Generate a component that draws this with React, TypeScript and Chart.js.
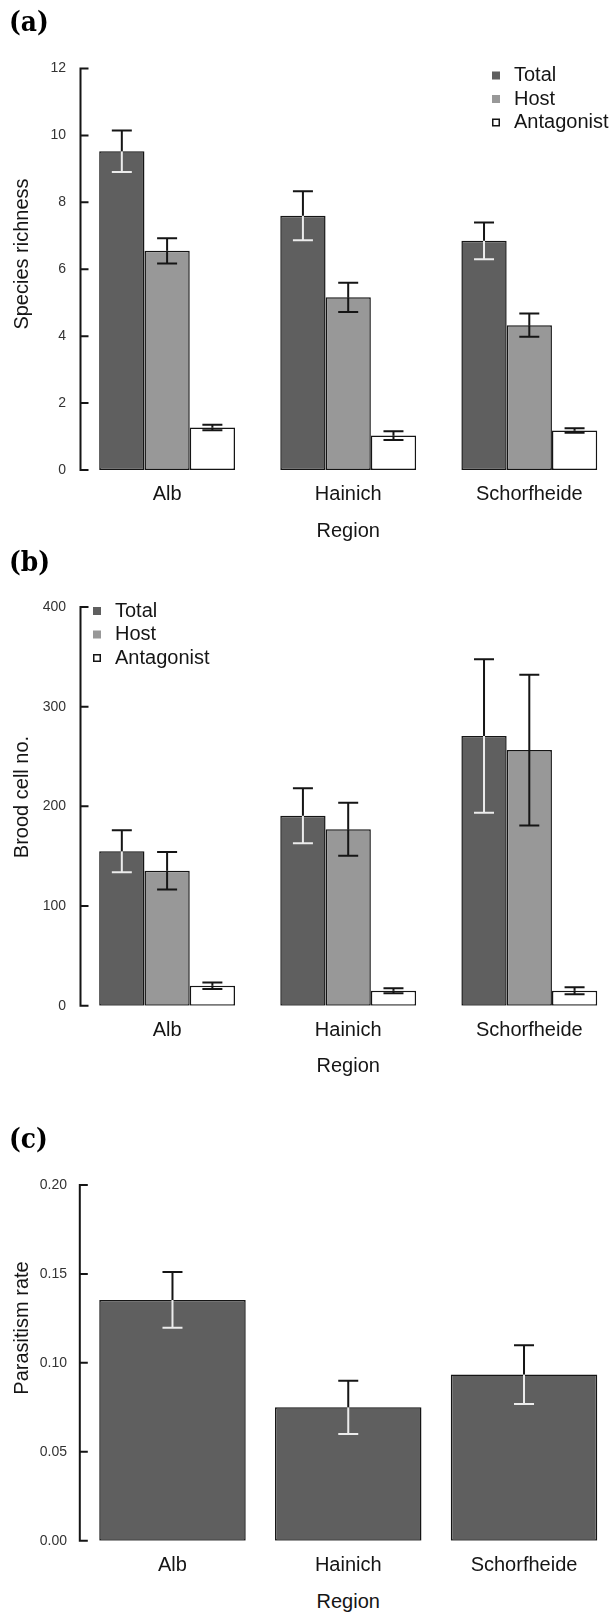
import React, { useEffect, useRef } from "react";
import { Chart, registerables } from "chart.js";

Chart.register(...registerables);

// ---- shared categories & series ----
const regions = ["Alb", "Hainich", "Schorfheide"];
const seriesNames = ["Total", "Host", "Antagonist"];
const seriesColors = ["#5f5f5f", "#989898", "#ffffff"];

// ---- (a) species richness: means and standard errors ----
const richnessTotal = [9.53, 7.6, 6.85];
const richnessTotalSE = [0.62, 0.73, 0.55];
const richnessHost = [6.55, 5.16, 4.33];
const richnessHostSE = [0.38, 0.44, 0.35];
const richnessAntagonist = [1.27, 1.03, 1.18];
const richnessAntagonistSE = [0.08, 0.13, 0.07];
const richnessTicks = [0, 2, 4, 6, 8, 10, 12];

// ---- (b) brood cell numbers ----
const broodTotal = [155, 190.6, 270.5];
const broodTotalSE = [21, 27.5, 77];
const broodHost = [135.4, 177, 256.5];
const broodHostSE = [18.7, 26.5, 75.6];
const broodAntagonist = [20, 15, 15];
const broodAntagonistSE = [3.2, 2.5, 3.6];
const broodTicks = [0, 100, 200, 300, 400];

// ---- (c) parasitism rate ----
const parasitismRate = [0.1354, 0.075, 0.0934];
const parasitismSE = [0.0157, 0.015, 0.0165];
const parasitismTicks = [0, 0.05, 0.1, 0.15, 0.2];

const SANS = '"Liberation Sans", Arial, Helvetica, sans-serif';
const INK = "#151515";

// Error bars: upper half in black, lower half in the dataset's own colour
// (light on dark bars so it stays visible).
const errorBarPlugin = {
  id: "seBars",
  afterDatasetsDraw(chart: any, _args: any, opts: any) {
    const ctx = chart.ctx;
    const ys = chart.scales.y;
    chart.data.datasets.forEach((ds: any, i: number) => {
      const se = ds.errorBars;
      if (!se) return;
      const meta = chart.getDatasetMeta(i);
      meta.data.forEach((bar: any, j: number) => {
        const v = ds.data[j];
        const e = se[j];
        const yMid = ys.getPixelForValue(v);
        const yHi = ys.getPixelForValue(v + e);
        const yLo = ys.getPixelForValue(v - e);
        const x = bar.x;
        const hw = opts.capHalf;
        ctx.save();
        ctx.lineWidth = opts.lineWidth;
        ctx.lineCap = "butt";
        ctx.strokeStyle = ds.errorLowColor || INK;
        ctx.beginPath();
        ctx.moveTo(x, yMid);
        ctx.lineTo(x, yLo);
        ctx.moveTo(x - hw, yLo);
        ctx.lineTo(x + hw, yLo);
        ctx.stroke();
        ctx.strokeStyle = INK;
        ctx.beginPath();
        ctx.moveTo(x, yMid);
        ctx.lineTo(x, yHi);
        ctx.moveTo(x - hw, yHi);
        ctx.lineTo(x + hw, yHi);
        ctx.stroke();
        ctx.restore();
      });
    });
  },
};

// Left axis drawn base-R style: a line spanning the tick range with short ticks.
const leftAxisPlugin = {
  id: "leftAxis",
  afterDraw(chart: any, _args: any, opts: any) {
    const ys = chart.scales.y;
    const ctx = chart.ctx;
    const vals = ys.ticks.map((t: any) => t.value);
    const top = ys.getPixelForValue(Math.max(...vals));
    const bot = ys.getPixelForValue(Math.min(...vals));
    const x0 = opts.x;
    ctx.save();
    ctx.strokeStyle = INK;
    ctx.lineWidth = 2;
    ctx.beginPath();
    ctx.moveTo(x0, top - 1);
    ctx.lineTo(x0, bot + 1);
    vals.forEach((v: number) => {
      const py = ys.getPixelForValue(v);
      ctx.moveTo(x0 - 1, py);
      ctx.lineTo(x0 + opts.tick, py);
    });
    ctx.stroke();
    ctx.restore();
  },
};

// Square-swatch legend placed inside the plot.
const swatchLegendPlugin = {
  id: "swatchLegend",
  afterDraw(chart: any, _args: any, opts: any) {
    if (!opts || !opts.show) return;
    const ctx = chart.ctx;
    const s = opts.box;
    ctx.save();
    chart.data.datasets.forEach((ds: any, i: number) => {
      const cy = opts.y + i * opts.rowGap;
      ctx.fillStyle = ds.backgroundColor;
      ctx.fillRect(opts.x, cy - s / 2, s, s);
      if (ds.backgroundColor === "#ffffff") {
        ctx.strokeStyle = INK;
        ctx.lineWidth = 1.5;
        ctx.strokeRect(opts.x + 0.75, cy - s / 2 + 0.75, s - 1.5, s - 1.5);
      }
      ctx.fillStyle = INK;
      ctx.font = `20px ${SANS}`;
      ctx.textBaseline = "middle";
      ctx.textAlign = "left";
      ctx.fillText(ds.label, opts.textX, cy);
    });
    ctx.restore();
  },
};

type PanelSpec = {
  top: number;
  height: number;
  datasets: any[];
  ticks: number[];
  decimals: number;
  plotLeft: number;
  plotRight: number;
  padTop: number;
  padBottom: number;
  labelPad: number;
  axisX: number;
  barPercentage: number;
  categoryPercentage: number;
  legend?: { x: number; y: number; textX: number };
};

const CANVAS_W = 640;

function makeConfig(p: PanelSpec): any {
  const maxTick = Math.max(...p.ticks);
  return {
    type: "bar",
    data: { labels: regions, datasets: p.datasets },
    plugins: [errorBarPlugin, leftAxisPlugin, swatchLegendPlugin],
    options: {
      responsive: false,
      animation: false,
      devicePixelRatio: 1,
      layout: {
        padding: { left: 0, right: CANVAS_W - p.plotRight, top: p.padTop, bottom: p.padBottom },
      },
      datasets: {
        bar: {
          barPercentage: p.barPercentage,
          categoryPercentage: p.categoryPercentage,
          borderColor: INK,
          borderWidth: 1.5,
          borderSkipped: false,
        },
      },
      scales: {
        x: {
          type: "category",
          offset: true,
          grid: { display: false, drawTicks: false },
          border: { display: false },
          ticks: { color: INK, font: { family: SANS, size: 20 }, padding: 12.5, maxRotation: 0 },
          afterFit: (s: any) => {
            s.height = 40;
          },
        },
        y: {
          min: 0,
          max: maxTick,
          grid: { display: false, drawTicks: false },
          border: { display: false },
          afterBuildTicks: (s: any) => {
            s.ticks = p.ticks.map((v) => ({ value: v }));
          },
          ticks: {
            color: "#333333",
            font: { family: SANS, size: 14 },
            padding: p.labelPad,
            callback: (v: any) => Number(v).toFixed(p.decimals),
          },
          afterFit: (s: any) => {
            s.width = p.plotLeft;
          },
        },
      },
      plugins: {
        legend: { display: false },
        tooltip: { enabled: false },
        seBars: { capHalf: 10, lineWidth: 2 },
        leftAxis: { x: p.axisX, tick: 8 },
        swatchLegend: p.legend
          ? { show: true, x: p.legend.x, y: p.legend.y, textX: p.legend.textX, rowGap: 23.5, box: 8 }
          : { show: false },
      },
    },
  };
}

function groupedSets(values: number[][], errors: number[][]) {
  return values.map((vals, i) => ({
    label: seriesNames[i],
    data: vals,
    backgroundColor: seriesColors[i],
    errorBars: errors[i],
    errorLowColor: i === 0 ? "#ececec" : INK,
  }));
}

const panels: PanelSpec[] = [
  {
    top: 0,
    height: 520,
    datasets: groupedSets(
      [richnessTotal, richnessHost, richnessAntagonist],
      [richnessTotalSE, richnessHostSE, richnessAntagonistSE]
    ),
    ticks: richnessTicks,
    decimals: 0,
    plotLeft: 76.55,
    plotRight: 619.85,
    padTop: 68.5,
    padBottom: 10,
    labelPad: 10.5,
    axisX: 80.5,
    barPercentage: 1,
    categoryPercentage: 0.75,
    legend: { x: 492, y: 75.5, textX: 514 },
  },
  {
    top: 540,
    height: 520,
    datasets: groupedSets(
      [broodTotal, broodHost, broodAntagonist],
      [broodTotalSE, broodHostSE, broodAntagonistSE]
    ),
    ticks: broodTicks,
    decimals: 0,
    plotLeft: 76.55,
    plotRight: 619.85,
    padTop: 67,
    padBottom: 14.3,
    labelPad: 10.5,
    axisX: 80.5,
    barPercentage: 1,
    categoryPercentage: 0.75,
    legend: { x: 93, y: 71, textX: 115 },
  },
  {
    top: 1100,
    height: 490,
    datasets: [
      {
        label: "Parasitism rate",
        data: parasitismRate,
        backgroundColor: seriesColors[0],
        errorBars: parasitismSE,
        errorLowColor: "#ececec",
      },
    ],
    ticks: parasitismTicks,
    decimals: 2,
    plotLeft: 84.6,
    plotRight: 611.9,
    padTop: 85,
    padBottom: 9.3,
    labelPad: 17.6,
    axisX: 79.8,
    barPercentage: 1 / 1.2,
    categoryPercentage: 1,
  },
];

function BarPanel({ spec }: { spec: PanelSpec }) {
  const ref = useRef<HTMLCanvasElement>(null);
  useEffect(() => {
    if (!ref.current) return;
    const chart = new Chart(ref.current, makeConfig(spec));
    return () => chart.destroy();
  }, [spec]);
  return (
    <canvas
      ref={ref}
      width={CANVAS_W}
      height={spec.height}
      style={{ position: "absolute", left: 0, top: spec.top, width: CANVAS_W, height: spec.height }}
    />
  );
}

const panelTag: React.CSSProperties = {
  position: "absolute",
  left: 9,
  fontFamily: '"DejaVu Serif", "Liberation Serif", serif',
  fontWeight: 700,
  fontSize: 25,
  lineHeight: "25px",
  color: "#000",
  transform: "scaleY(1.15)",
  transformOrigin: "0 0",
};

function XTitle({ y }: { y: number }) {
  return (
    <div
      style={{
        position: "absolute",
        left: 348.2,
        top: y,
        transform: "translate(-50%, -50%)",
        fontFamily: SANS,
        fontSize: 20,
        lineHeight: 1,
        color: INK,
        whiteSpace: "nowrap",
      }}
    >
      Region
    </div>
  );
}

function YTitle({ y, text }: { y: number; text: string }) {
  return (
    <div
      style={{
        position: "absolute",
        left: 21,
        top: y,
        transform: "translate(-50%, -50%) rotate(-90deg)",
        fontFamily: SANS,
        fontSize: 20,
        lineHeight: 1,
        color: INK,
        whiteSpace: "nowrap",
      }}
    >
      {text}
    </div>
  );
}

export default function App() {
  return (
    <div
      style={{
        position: "absolute",
        left: 0,
        top: 0,
        width: 610,
        height: 1613,
        overflow: "hidden",
        background: "#fff",
      }}
    >
      {panels.map((p, i) => (
        <BarPanel key={i} spec={p} />
      ))}
      <div style={{ ...panelTag, top: 7 }}>(a)</div>
      <div style={{ ...panelTag, top: 547 }}>(b)</div>
      <div style={{ ...panelTag, top: 1124 }}>(c)</div>
      <YTitle y={254} text="Species richness" />
      <YTitle y={796.7} text="Brood cell no." />
      <YTitle y={1328.3} text="Parasitism rate" />
      <XTitle y={530} />
      <XTitle y={1065} />
      <XTitle y={1601} />
    </div>
  );
}
